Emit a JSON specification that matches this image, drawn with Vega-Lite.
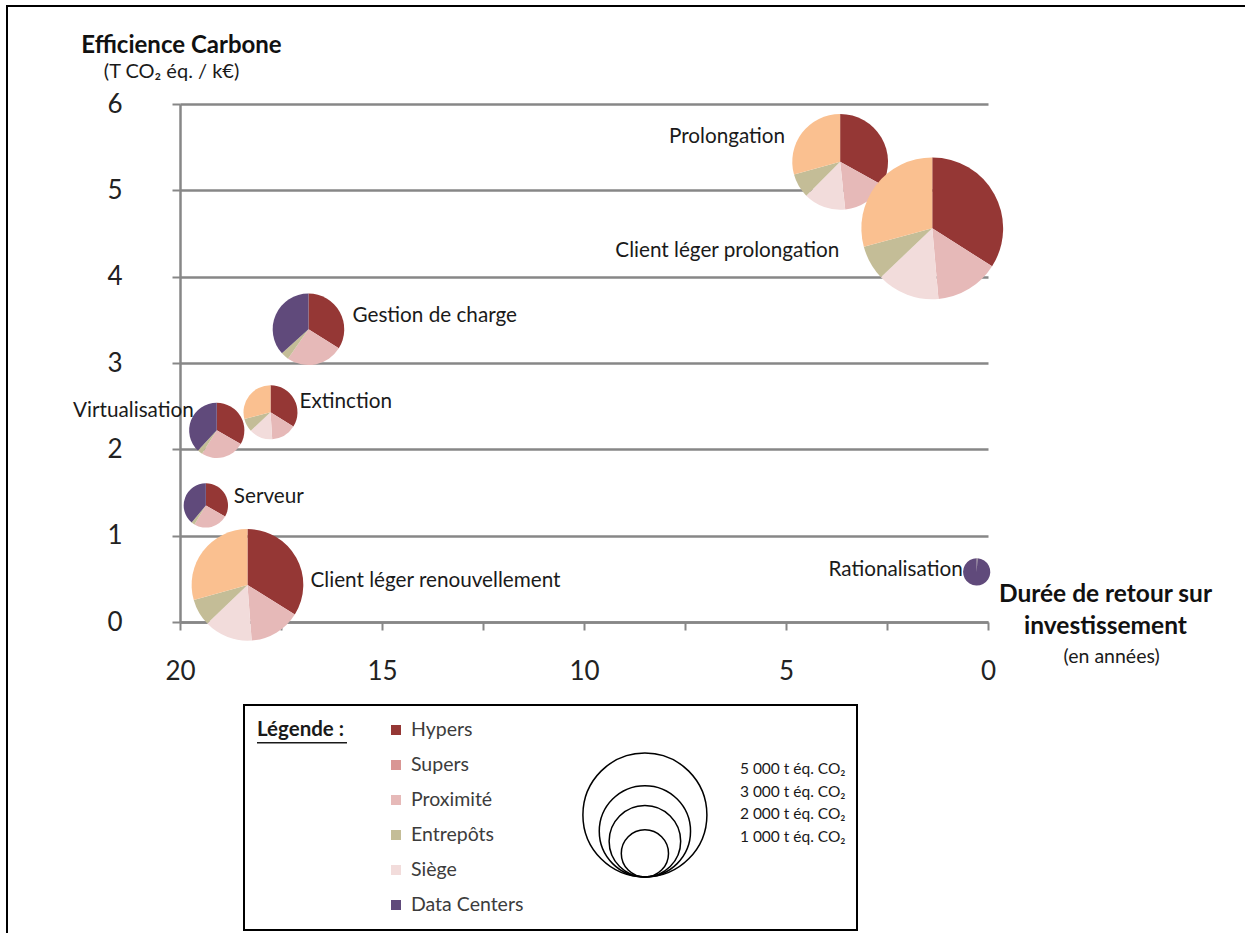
{
  "$schema": "https://vega.github.io/schema/vega-lite/v6.json",
  "width": 1240,
  "height": 930,
  "padding": {"left": 7, "top": 6, "right": 0, "bottom": 0},
  "background": "white",
  "config": {
    "view": {"stroke": "black", "strokeWidth": 2},
    "font": "Lato",
    "text": {"font": "Lato"}
  },
  "datasets": {
    "projets": [
      {"projet": "Prolongation", "retour": 3.66, "efficience": 5.33, "tonnes": 3250},
      {"projet": "Client léger prolongation", "retour": 1.38, "efficience": 4.56, "tonnes": 6250},
      {"projet": "Client léger renouvellement", "retour": 18.33, "efficience": 0.43, "tonnes": 4200},
      {"projet": "Gestion de charge", "retour": 16.82, "efficience": 3.39, "tonnes": 2000},
      {"projet": "Extinction", "retour": 17.76, "efficience": 2.43, "tonnes": 1250},
      {"projet": "Virtualisation", "retour": 19.09, "efficience": 2.22, "tonnes": 1300},
      {"projet": "Serveur", "retour": 19.36, "efficience": 1.35, "tonnes": 900},
      {"projet": "Rationalisation", "retour": 0.28, "efficience": 0.58, "tonnes": 400}
    ],
    "parts": [
      {"projet": "Rationalisation", "categorie": "Entrepôts", "ordre": 4, "part": 1},
      {"projet": "Rationalisation", "categorie": "Data Centers", "ordre": 6, "part": 99},
      {"projet": "Client léger renouvellement", "categorie": "Hypers", "ordre": 1, "part": 33.9},
      {"projet": "Client léger renouvellement", "categorie": "Proximité", "ordre": 2, "part": 14.9},
      {"projet": "Client léger renouvellement", "categorie": "Siège", "ordre": 3, "part": 14.0},
      {"projet": "Client léger renouvellement", "categorie": "Entrepôts", "ordre": 4, "part": 7.8},
      {"projet": "Client léger renouvellement", "categorie": "Supers", "ordre": 5, "part": 29.4},
      {"projet": "Serveur", "categorie": "Hypers", "ordre": 1, "part": 33.3},
      {"projet": "Serveur", "categorie": "Proximité", "ordre": 2, "part": 25.3},
      {"projet": "Serveur", "categorie": "Entrepôts", "ordre": 4, "part": 2.5},
      {"projet": "Serveur", "categorie": "Data Centers", "ordre": 6, "part": 38.9},
      {"projet": "Virtualisation", "categorie": "Hypers", "ordre": 1, "part": 33.3},
      {"projet": "Virtualisation", "categorie": "Proximité", "ordre": 2, "part": 25.6},
      {"projet": "Virtualisation", "categorie": "Entrepôts", "ordre": 4, "part": 3.0},
      {"projet": "Virtualisation", "categorie": "Data Centers", "ordre": 6, "part": 38.1},
      {"projet": "Extinction", "categorie": "Hypers", "ordre": 1, "part": 33.9},
      {"projet": "Extinction", "categorie": "Proximité", "ordre": 2, "part": 15.1},
      {"projet": "Extinction", "categorie": "Siège", "ordre": 3, "part": 14.0},
      {"projet": "Extinction", "categorie": "Entrepôts", "ordre": 4, "part": 8.0},
      {"projet": "Extinction", "categorie": "Supers", "ordre": 5, "part": 29.0},
      {"projet": "Gestion de charge", "categorie": "Hypers", "ordre": 1, "part": 33.9},
      {"projet": "Gestion de charge", "categorie": "Proximité", "ordre": 2, "part": 25.8},
      {"projet": "Gestion de charge", "categorie": "Entrepôts", "ordre": 4, "part": 3.6},
      {"projet": "Gestion de charge", "categorie": "Data Centers", "ordre": 6, "part": 36.7},
      {"projet": "Prolongation", "categorie": "Hypers", "ordre": 1, "part": 33.0},
      {"projet": "Prolongation", "categorie": "Proximité", "ordre": 2, "part": 15.3},
      {"projet": "Prolongation", "categorie": "Siège", "ordre": 3, "part": 14.2},
      {"projet": "Prolongation", "categorie": "Entrepôts", "ordre": 4, "part": 8.2},
      {"projet": "Prolongation", "categorie": "Supers", "ordre": 5, "part": 29.3},
      {"projet": "Client léger prolongation", "categorie": "Hypers", "ordre": 1, "part": 34.0},
      {"projet": "Client léger prolongation", "categorie": "Proximité", "ordre": 2, "part": 14.6},
      {"projet": "Client léger prolongation", "categorie": "Siège", "ordre": 3, "part": 14.3},
      {"projet": "Client léger prolongation", "categorie": "Entrepôts", "ordre": 4, "part": 7.9},
      {"projet": "Client léger prolongation", "categorie": "Supers", "ordre": 5, "part": 29.2}
    ],
    "categories": [
      {"categorie": "Hypers"},
      {"categorie": "Supers"},
      {"categorie": "Proximité"},
      {"categorie": "Entrepôts"},
      {"categorie": "Siège"},
      {"categorie": "Data Centers"}
    ],
    "tailles": [
      {"t": 5000, "libelle": "5 000 t éq. CO₂"},
      {"t": 3000, "libelle": "3 000 t éq. CO₂"},
      {"t": 2000, "libelle": "2 000 t éq. CO₂"},
      {"t": 1000, "libelle": "1 000 t éq. CO₂"}
    ]
  },
  "layer": [
    {
      "layer": [
        {
          "data": {"name": "parts"},
          "transform": [
            {"lookup": "projet", "from": {"data": {"name": "projets"}, "key": "projet", "fields": ["retour", "efficience", "tonnes"]}},
            {"stack": "part", "groupby": ["projet"], "sort": [{"field": "ordre", "order": "ascending"}], "as": ["a0", "a1"], "offset": "normalize"}
          ],
          "mark": {"type": "arc"},
          "encoding": {
            "x": {
              "field": "retour", "type": "quantitative",
              "scale": {"domain": [20, 0], "range": [173, 981], "nice": false, "zero": false},
              "axis": {
                "values": [0, 2.5, 5, 7.5, 10, 12.5, 15, 17.5, 20],
                "labelExpr": "datum.value % 5 === 0 ? format(datum.value, 'd') : ''",
                "offset": -314,
                "grid": false,
                "domainColor": "#878787", "domainWidth": 2.5,
                "tickColor": "#878787", "tickWidth": 2, "tickSize": 8,
                "labelFontSize": 26, "labelColor": "#222222", "labelPadding": 28,
                "labelFlush": false, "labelOverlap": false, "labelFont": "Lato",
                "title": ["Durée de retour sur", "investissement"],
                "titleX": 1098, "titleY": -40,
                "titleAlign": "center", "titleBaseline": "top",
                "titleFontSize": 24.5, "titleFontWeight": "bold", "titleLineHeight": 32,
                "titleColor": "#111111", "titleFont": "Lato"
              }
            },
            "y": {
              "field": "efficience", "type": "quantitative",
              "scale": {"domain": [0, 6], "range": [616, 98], "nice": false, "zero": false},
              "axis": {
                "values": [0, 1, 2, 3, 4, 5, 6],
                "format": "d",
                "offset": -173,
                "grid": true, "gridColor": "#878787", "gridWidth": 2.5,
                "domainColor": "#878787", "domainWidth": 2.5,
                "tickColor": "#878787", "tickWidth": 2, "tickSize": 8,
                "labelFontSize": 26, "labelColor": "#222222", "labelPadding": 50,
                "labelFont": "Lato", "labelFlush": false, "labelOverlap": false,
                "title": "Efficience Carbone",
                "titleAngle": 0, "titleX": 1, "titleY": 39,
                "titleAlign": "center", "titleBaseline": "middle",
                "titleFontSize": 24, "titleFontWeight": "bold",
                "titleColor": "#111111", "titleFont": "Lato"
              }
            },
            "theta": {"field": "a0", "type": "quantitative", "scale": {"domain": [0, 1], "range": [0, 6.283185307179586]}},
            "theta2": {"field": "a1"},
            "radius": {"field": "tonnes", "type": "quantitative", "scale": {"type": "pow", "exponent": 0.6, "domain": [0, 5000], "range": [0, 62], "zero": true}},
            "color": {
              "field": "categorie", "type": "nominal",
              "scale": {
                "domain": ["Hypers", "Supers", "Proximité", "Entrepôts", "Siège", "Data Centers"],
                "range": ["#953735", "#FAC090", "#E6B9B8", "#C4BD97", "#F2DCDB", "#604A7B"]
              },
              "legend": null
            }
          }
        },
        {
          "data": {"name": "projets"},
          "transform": [{"filter": "datum.projet === 'Prolongation'"}],
          "mark": {"type": "text", "align": "right", "baseline": "middle", "dx": -55, "dy": -25, "fontSize": 20.7, "color": "#1a1a1a"},
          "encoding": {
            "x": {"field": "retour", "type": "quantitative", "scale": {"domain": [20, 0], "range": [173, 981], "nice": false, "zero": false}},
            "y": {"field": "efficience", "type": "quantitative", "scale": {"domain": [0, 6], "range": [616, 98], "nice": false, "zero": false}},
            "text": {"field": "projet"}
          }
        },
        {
          "data": {"name": "projets"},
          "transform": [{"filter": "datum.projet === 'Client léger prolongation'"}],
          "mark": {"type": "text", "align": "right", "baseline": "middle", "dx": -93, "dy": 23, "fontSize": 20.7, "color": "#1a1a1a"},
          "encoding": {
            "x": {"field": "retour", "type": "quantitative", "scale": {"domain": [20, 0], "range": [173, 981], "nice": false, "zero": false}},
            "y": {"field": "efficience", "type": "quantitative", "scale": {"domain": [0, 6], "range": [616, 98], "nice": false, "zero": false}},
            "text": {"field": "projet"}
          }
        },
        {
          "data": {"name": "projets"},
          "transform": [{"filter": "datum.projet === 'Gestion de charge'"}],
          "mark": {"type": "text", "align": "left", "baseline": "middle", "dx": 44, "dy": -13, "fontSize": 20.7, "color": "#1a1a1a"},
          "encoding": {
            "x": {"field": "retour", "type": "quantitative", "scale": {"domain": [20, 0], "range": [173, 981], "nice": false, "zero": false}},
            "y": {"field": "efficience", "type": "quantitative", "scale": {"domain": [0, 6], "range": [616, 98], "nice": false, "zero": false}},
            "text": {"field": "projet"}
          }
        },
        {
          "data": {"name": "projets"},
          "transform": [{"filter": "datum.projet === 'Extinction'"}],
          "mark": {"type": "text", "align": "left", "baseline": "middle", "dx": 29, "dy": -10, "fontSize": 20.7, "color": "#1a1a1a"},
          "encoding": {
            "x": {"field": "retour", "type": "quantitative", "scale": {"domain": [20, 0], "range": [173, 981], "nice": false, "zero": false}},
            "y": {"field": "efficience", "type": "quantitative", "scale": {"domain": [0, 6], "range": [616, 98], "nice": false, "zero": false}},
            "text": {"field": "projet"}
          }
        },
        {
          "data": {"name": "projets"},
          "transform": [{"filter": "datum.projet === 'Virtualisation'"}],
          "mark": {"type": "text", "align": "right", "baseline": "middle", "dx": -23, "dy": -19, "fontSize": 20.7, "color": "#1a1a1a"},
          "encoding": {
            "x": {"field": "retour", "type": "quantitative", "scale": {"domain": [20, 0], "range": [173, 981], "nice": false, "zero": false}},
            "y": {"field": "efficience", "type": "quantitative", "scale": {"domain": [0, 6], "range": [616, 98], "nice": false, "zero": false}},
            "text": {"field": "projet"}
          }
        },
        {
          "data": {"name": "projets"},
          "transform": [{"filter": "datum.projet === 'Serveur'"}],
          "mark": {"type": "text", "align": "left", "baseline": "middle", "dx": 28, "dy": -8, "fontSize": 20.7, "color": "#1a1a1a"},
          "encoding": {
            "x": {"field": "retour", "type": "quantitative", "scale": {"domain": [20, 0], "range": [173, 981], "nice": false, "zero": false}},
            "y": {"field": "efficience", "type": "quantitative", "scale": {"domain": [0, 6], "range": [616, 98], "nice": false, "zero": false}},
            "text": {"field": "projet"}
          }
        },
        {
          "data": {"name": "projets"},
          "transform": [{"filter": "datum.projet === 'Client léger renouvellement'"}],
          "mark": {"type": "text", "align": "left", "baseline": "middle", "dx": 63, "dy": -4, "fontSize": 20.7, "color": "#1a1a1a"},
          "encoding": {
            "x": {"field": "retour", "type": "quantitative", "scale": {"domain": [20, 0], "range": [173, 981], "nice": false, "zero": false}},
            "y": {"field": "efficience", "type": "quantitative", "scale": {"domain": [0, 6], "range": [616, 98], "nice": false, "zero": false}},
            "text": {"field": "projet"}
          }
        },
        {
          "data": {"name": "projets"},
          "transform": [{"filter": "datum.projet === 'Rationalisation'"}],
          "mark": {"type": "text", "align": "right", "baseline": "middle", "dx": -14, "dy": -2, "fontSize": 20.7, "color": "#1a1a1a"},
          "encoding": {
            "x": {"field": "retour", "type": "quantitative", "scale": {"domain": [20, 0], "range": [173, 981], "nice": false, "zero": false}},
            "y": {"field": "efficience", "type": "quantitative", "scale": {"domain": [0, 6], "range": [616, 98], "nice": false, "zero": false}},
            "text": {"field": "projet"}
          }
        },
        {
          "data": {"values": [{"texte": "(T CO₂ éq. / k€)"}]},
          "mark": {"type": "text", "align": "center", "baseline": "middle", "fontSize": 20, "color": "#1a1a1a"},
          "encoding": {
            "x": {"datum": 20.21, "type": "quantitative", "scale": {"domain": [20, 0], "range": [173, 981], "nice": false, "zero": false}},
            "y": {"datum": 6.371, "type": "quantitative", "scale": {"domain": [0, 6], "range": [616, 98], "nice": false, "zero": false}},
            "text": {"field": "texte"}
          }
        },
        {
          "data": {"values": [{"texte": "(en années)"}]},
          "mark": {"type": "text", "align": "center", "baseline": "middle", "fontSize": 19.5, "color": "#1a1a1a"},
          "encoding": {
            "x": {"datum": -3.06, "type": "quantitative", "scale": {"domain": [20, 0], "range": [173, 981], "nice": false, "zero": false}},
            "y": {"datum": -0.40, "type": "quantitative", "scale": {"domain": [0, 6], "range": [616, 98], "nice": false, "zero": false}},
            "text": {"field": "texte"}
          }
        }
      ]
    },
    {
      "layer": [
        {
          "layer": [
            {
              "data": {"values": [{"cadre": "Légende"}]},
              "mark": {"type": "rect", "fill": "white", "stroke": "black", "strokeWidth": 2},
              "encoding": {
                "x": {"datum": 0, "type": "quantitative", "scale": {"domain": [0, 1], "range": [237, 850], "nice": false, "zero": false}, "axis": null},
                "x2": {"datum": 1},
                "y": {"datum": 0, "type": "quantitative", "scale": {"domain": [0, 1], "range": [699, 924], "nice": false, "zero": false}, "axis": null},
                "y2": {"datum": 1}
              }
            },
            {
              "data": {"values": [{"cadre": "soulignement"}]},
              "mark": {"type": "rule", "stroke": "#1a1a1a", "strokeWidth": 1.5},
              "encoding": {
                "x": {"datum": 0.0212, "type": "quantitative", "scale": {"domain": [0, 1], "range": [237, 850], "nice": false, "zero": false}, "axis": null},
                "x2": {"datum": 0.168},
                "y": {"datum": 0.168, "type": "quantitative", "scale": {"domain": [0, 1], "range": [699, 924], "nice": false, "zero": false}, "axis": null}
              }
            },
            {
              "data": {"name": "tailles"},
              "mark": {
                "type": "point",
                "shape": "M0,0 A1,1 0 1,1 0,-2 A1,1 0 1,1 0,0 Z",
                "filled": false, "stroke": "black", "strokeWidth": 1.5, "opacity": 1
              },
              "encoding": {
                "x": {"datum": 0.654, "type": "quantitative", "scale": {"domain": [0, 1], "range": [237, 850], "nice": false, "zero": false}, "axis": null},
                "y": {"datum": 0.7644, "type": "quantitative", "scale": {"domain": [0, 1], "range": [699, 924], "nice": false, "zero": false}, "axis": null},
                "size": {"field": "t", "type": "quantitative", "scale": {"type": "pow", "exponent": 1.2, "domain": [0, 5000], "range": [0, 15376], "zero": true}, "legend": null}
              }
            }
          ]
        },
        {
          "layer": [
            {
              "data": {"name": "categories"},
              "mark": {"type": "point", "shape": "square", "filled": true, "size": 100, "opacity": 1},
              "encoding": {
                "x": {"datum": 0.248, "type": "quantitative", "scale": {"domain": [0, 1], "range": [237, 850], "nice": false, "zero": false}, "axis": null},
                "y": {"field": "categorie", "type": "nominal", "scale": {"type": "point", "domain": ["Hypers", "Supers", "Proximité", "Entrepôts", "Siège", "Data Centers"], "range": [724, 899], "padding": 0}, "axis": null},
                "color": {
                  "field": "categorie", "type": "nominal",
                  "scale": {
                    "domain": ["Hypers", "Supers", "Proximité", "Entrepôts", "Siège", "Data Centers"],
                    "range": ["#953735", "#D99694", "#E6B9B8", "#C4BD97", "#F2DCDB", "#604A7B"]
                  },
                  "legend": null
                }
              }
            },
            {
              "data": {"name": "categories"},
              "mark": {"type": "text", "align": "left", "baseline": "middle", "fontSize": 19.5, "color": "#3c3c3c"},
              "encoding": {
                "x": {"datum": 0.2724, "type": "quantitative", "scale": {"domain": [0, 1], "range": [237, 850], "nice": false, "zero": false}, "axis": null},
                "y": {"field": "categorie", "type": "nominal", "scale": {"type": "point", "domain": ["Hypers", "Supers", "Proximité", "Entrepôts", "Siège", "Data Centers"], "range": [724, 899], "padding": 0}, "axis": null},
                "text": {"field": "categorie"}
              }
            },
            {
              "data": {"values": [{"texte": "Légende :"}]},
              "mark": {"type": "text", "align": "left", "baseline": "middle", "fontSize": 20.5, "fontWeight": "bold", "color": "#1a1a1a"},
              "encoding": {
                "x": {"datum": 0.0212, "type": "quantitative", "scale": {"domain": [0, 1], "range": [237, 850], "nice": false, "zero": false}, "axis": null},
                "y": {"datum": "Hypers", "type": "nominal", "scale": {"type": "point", "domain": ["Hypers", "Supers", "Proximité", "Entrepôts", "Siège", "Data Centers"], "range": [724, 899], "padding": 0}, "axis": null},
                "text": {"field": "texte"}
              }
            }
          ]
        },
        {
          "data": {"name": "tailles"},
          "mark": {"type": "text", "align": "left", "baseline": "middle", "fontSize": 15.5, "color": "#1a1a1a"},
          "encoding": {
            "x": {"datum": 0.809, "type": "quantitative", "scale": {"domain": [0, 1], "range": [237, 850], "nice": false, "zero": false}, "axis": null},
            "y": {"field": "t", "type": "ordinal", "scale": {"type": "point", "domain": [5000, 3000, 2000, 1000], "range": [763, 831], "padding": 0}, "axis": null},
            "text": {"field": "libelle"}
          }
        }
      ],
      "resolve": {"scale": {"y": "independent"}}
    }
  ],
  "resolve": {"scale": {"x": "independent", "y": "independent", "color": "independent"}}
}
